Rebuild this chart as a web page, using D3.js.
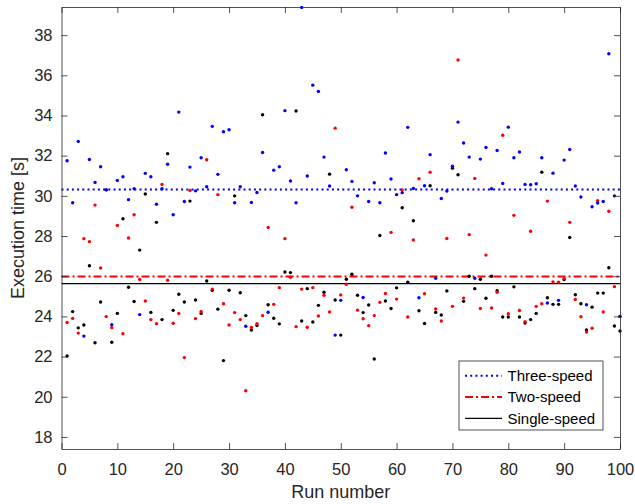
<!DOCTYPE html>
<html>
<head>
<meta charset="utf-8">
<style>
    body { margin: 0; background: #fff; }
    svg { font-family: "Liberation Sans", Arial, Helvetica, sans-serif; }
    .axis path, .axis line { stroke: #262626; stroke-width: 0.8; }
    .axis text { fill: #262626; font-size: 16.5px; }
</style>
</head>
<body>
<svg width="635" height="504"></svg>

<script src="https://d3js.org/d3.v7.min.js"></script>
<script>
    // run numbers 1..100
    let runs = d3.range(1, 101)

    let threeSpeed = [31.75, 29.66, 32.71, 23.02, 31.81, 30.67, 31.45, 30.3, 23.59, 30.77,
        30.95, 29.81, 30.35, 24.09, 31.12, 30.95, 29.58, 30.35, 31.57, 29.06,
        34.17, 29.72, 31.43, 30.25, 31.9, 30.45, 33.46, 31.07, 33.19, 33.29,
        29.66, 30.45, 23.51, 29.67, 30.17, 32.16, 24.21, 31.28, 31.45, 34.24,
        30.74, 29.66, 39.38, 30.99, 35.51, 35.2, 31.93, 30.49, 23.07, 24.8,
        31.3, 30.72, 30.0, 24.94, 29.72, 30.65, 29.66, 32.13, 30.84, 30.06,
        30.16, 33.41, 30.37, 24.93, 30.5, 32.05, 25.9, 29.87, 30.24, 31.47,
        33.67, 32.63, 31.93, 25.9, 31.83, 32.41, 30.35, 32.26, 30.62, 33.42,
        31.9, 32.18, 30.57, 30.55, 30.6, 31.9, 24.67, 31.13, 24.8, 31.78,
        32.31, 30.49, 29.94, 24.58, 29.46, 29.64, 29.72, 37.07, 30.0, 24.0]

    let twoSpeed = [23.7, 23.9, 23.17, 27.87, 27.72, 29.54, 26.41, 23.99, 23.44, 28.53,
        23.14, 27.9, 29.06, 25.84, 24.77, 23.84, 23.64, 30.57, 25.8, 23.66,
        24.15, 21.95, 30.27, 23.89, 24.25, 31.8, 25.36, 30.06, 24.63, 23.57,
        24.19, 23.84, 20.3, 23.45, 23.64, 24.04, 28.43, 24.6, 25.43, 27.87,
        25.95, 23.49, 25.36, 23.46, 25.43, 24.02, 25.05, 24.22, 33.37, 25.07,
        25.6, 29.43, 24.31, 23.88, 23.54, 24.04, 24.7, 25.14, 28.18, 24.86,
        30.3, 23.97, 27.8, 30.85, 25.13, 31.18, 24.37, 23.77, 27.88, 24.5,
        36.76, 24.91, 28.07, 30.87, 24.39, 27.05, 24.42, 25.2, 33.02, 24.13,
        29.03, 24.29, 23.73, 28.24, 24.5, 24.63, 29.74, 25.72, 25.7, 25.88,
        28.68, 24.84, 23.98, 23.22, 23.41, 29.76, 24.22, 29.23, 25.48, 24.0]

    let singleSpeed = [22.03, 24.24, 23.43, 23.57, 26.52, 22.69, 24.72, 30.3, 22.71, 24.15,
        28.86, 25.45, 24.74, 27.3, 30.09, 24.2, 28.68, 23.84, 32.1, 24.3,
        25.1, 24.72, 29.74, 24.82, 24.15, 25.76, 25.3, 24.36, 21.8, 25.3,
        30.0, 25.18, 24.04, 23.32, 23.55, 34.04, 24.58, 23.91, 23.63, 26.21,
        26.18, 34.22, 23.77, 25.38, 23.72, 24.55, 25.2, 31.08, 24.82, 23.07,
        25.85, 26.1, 25.05, 24.19, 24.57, 21.88, 28.03, 24.77, 24.39, 25.42,
        29.41, 25.7, 28.76, 24.28, 23.65, 30.5, 24.2, 24.07, 25.27, 31.38,
        31.05, 24.75, 26.0, 25.38, 25.85, 24.9, 26.0, 25.28, 23.97, 23.97,
        25.47, 23.97, 23.67, 23.84, 24.15, 31.18, 24.93, 24.6, 24.6, 25.84,
        27.93, 25.08, 24.63, 23.32, 24.46, 25.16, 25.16, 26.42, 23.52, 23.27]

    // mean lines as drawn in the figure
    let meanValues = [30.32, 25.98, 25.63]
    let seriesNames = ["Three-speed", "Two-speed", "Single-speed"]

    let xTicks = d3.range(0, 101, 10)
    let yTicks = d3.range(18, 39, 2)

    let series = [
        { name: seriesNames[0], values: threeSpeed, mean: meanValues[0], color: "#0000ff", dash: "2,3.2", width: 2 },
        { name: seriesNames[1], values: twoSpeed, mean: meanValues[1], color: "#ff0000", dash: "8,3,2,3", width: 2 },
        { name: seriesNames[2], values: singleSpeed, mean: meanValues[2], color: "#000000", dash: null, width: 1.3 }
    ]

    let svg = d3.select("svg")
    let margin = { left: 61.5, right: 15, top: 7, bottom: 55 }
    let width = 635
    let height = 504

    let x = d3.scaleLinear().domain([0, 100]).range([margin.left, width - margin.right])
    let y = d3.scaleLinear().domain([17.4, 39.4]).range([height - margin.bottom, margin.top])

    // mean lines
    series.forEach(s => {
        svg.append("line")
            .attr("x1", x(0)).attr("x2", x(100))
            .attr("y1", y(s.mean)).attr("y2", y(s.mean))
            .style("stroke", s.color)
            .style("stroke-width", s.width)
            .style("stroke-dasharray", s.dash)
    })

    // points, drawn black first so colored ones sit on top like the original
    let order = [series[2], series[1], series[0]]
    order.forEach(s => {
        svg.append("g")
            .selectAll("circle")
            .data(s.values)
            .join("circle")
            .attr("cx", (d, i) => x(runs[i]))
            .attr("cy", d => y(d))
            .attr("r", 1.7)
            .style("fill", s.color)
    })

    // axes (ticks pointing inward, box on)
    let xAxisBottom = svg.append("g").attr("class", "axis")
        .attr("transform", `translate(0,${y(17.4)})`)
        .call(d3.axisBottom(x).tickValues(xTicks).tickSizeInner(-6).tickSizeOuter(0).tickPadding(14))
    let xAxisTop = svg.append("g").attr("class", "axis")
        .attr("transform", `translate(0,${y(39.4)})`)
        .call(d3.axisTop(x).tickValues(xTicks).tickSizeInner(-6).tickSizeOuter(0).tickFormat(""))
    let yAxisLeft = svg.append("g").attr("class", "axis")
        .attr("transform", `translate(${x(0)},0)`)
        .call(d3.axisLeft(y).tickValues(yTicks).tickSizeInner(-6).tickSizeOuter(0).tickPadding(9))
    let yAxisRight = svg.append("g").attr("class", "axis")
        .attr("transform", `translate(${x(100)},0)`)
        .call(d3.axisRight(y).tickValues(yTicks).tickSizeInner(-6).tickSizeOuter(0).tickFormat(""))

    svg.append("text")
        .attr("x", (x(0) + x(100)) / 2)
        .attr("y", 498)
        .attr("text-anchor", "middle")
        .style("font-size", "18px")
        .style("fill", "#262626")
        .text("Run number")

    svg.append("text")
        .attr("transform", `translate(24,${(y(17.4) + y(39.4)) / 2}) rotate(-90)`)
        .attr("text-anchor", "middle")
        .style("font-size", "18px")
        .style("fill", "#262626")
        .text("Execution time [s]")

    // legend
    let legend = svg.append("g").attr("transform", "translate(459,361)")
    legend.append("rect")
        .attr("width", 144).attr("height", 69)
        .style("fill", "#fff")
        .style("stroke", "#262626")
        .style("stroke-width", 0.8)

    series.forEach((s, i) => {
        let cy = 14.7 + i * 21.3
        legend.append("line")
            .attr("x1", 6).attr("x2", 43)
            .attr("y1", cy).attr("y2", cy)
            .style("stroke", s.color)
            .style("stroke-width", s.width)
            .style("stroke-dasharray", s.dash)
        legend.append("text")
            .attr("x", 48.5).attr("y", cy + 5.3)
            .style("font-size", "15px")
            .style("fill", "#000")
            .text(s.name)
    })
</script>
</body>
</html>
